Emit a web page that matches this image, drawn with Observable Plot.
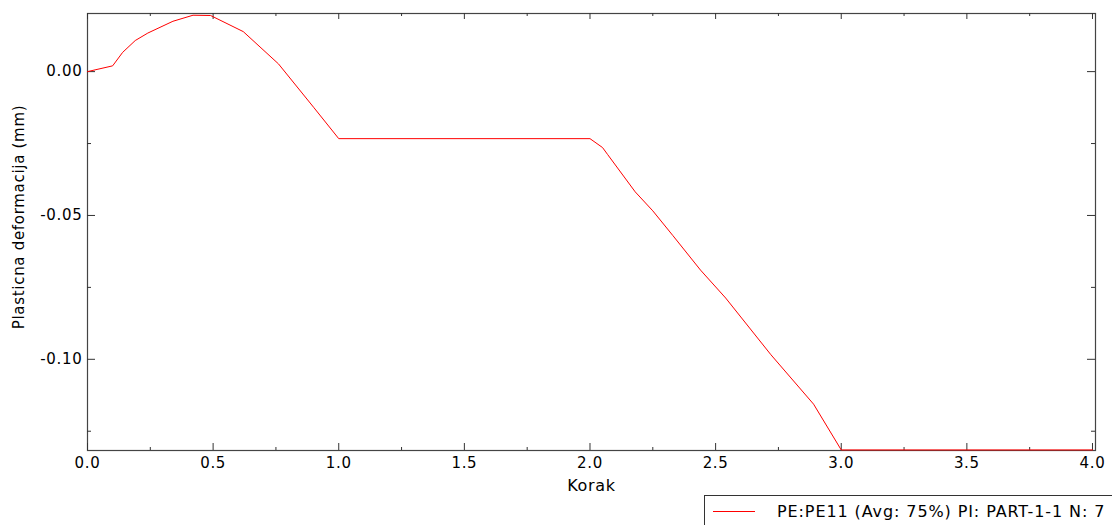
<!DOCTYPE html>
<html>
<head>
<meta charset="utf-8">
<script src="https://cdn.jsdelivr.net/npm/d3@7"></script>
<script src="https://cdn.jsdelivr.net/npm/@observablehq/plot@0.6"></script>
<style>
  html, body { margin: 0; padding: 0; background: white; }
  #wrap { position: relative; width: 1112px; height: 525px; overflow: hidden; background: white; }
  #legend { position: absolute; left: 704px; top: 495px; width: 430px; height: 40px;
            border: 1px solid #333; box-sizing: border-box; background: white;
            font-family: "DejaVu Sans", sans-serif; font-size: 16px; letter-spacing: 0.9px; color: #000; }
  #legend .swatch { position: absolute; left: 8px; top: 15px; width: 42px; height: 0; border-top: 1px solid #ff0000; }
  #legend .lbl { position: absolute; left: 72px; top: 6px; white-space: nowrap; }
</style>
</head>
<body>
<div id="wrap">
  <div id="chart"></div>
  <div id="legend"><div class="swatch"></div><div class="lbl" id="legendText"></div></div>
</div>
<script>
// Data
const korak = [0, 0.1, 0.14, 0.19, 0.24, 0.34, 0.42, 0.49, 0.62, 0.76, 0.9, 1.0, 2.0, 2.05, 2.07, 2.18, 2.25, 2.33, 2.44, 2.54, 2.72, 2.89, 3.0, 4.0];
const deformacija = [0, 0.002, 0.0067, 0.0108, 0.0134, 0.0175, 0.0196, 0.0195, 0.0139, 0.0027, -0.0124, -0.0233, -0.0233, -0.0264, -0.0288, -0.0418, -0.0484, -0.0570, -0.0690, -0.0787, -0.0984, -0.1156, -0.1315, -0.1315];
const xMajorTicks = [0, 0.5, 1.0, 1.5, 2.0, 2.5, 3.0, 3.5, 4.0];
const xMinorTicks = [0.25, 0.75, 1.25, 1.75, 2.25, 2.75, 3.25, 3.75];
const yMajorTicks = [0, -0.05, -0.10];
const yMinorTicks = [-0.025, -0.075, -0.125];
const xLabel = "Korak";
const yLabel = "Plasticna deformacija (mm)";
const seriesName = "PE:PE11 (Avg: 75%) PI: PART-1-1 N: 7";

const data = korak.map((k, i) => ({x: k, y: deformacija[i]}));

const W = 1112, H = 500, mT = 13, mB = 50, mL = 87, mR = 17;
const pw = W - mL - mR, ph = H - mT - mB;
const hy = s => s.replace("\u2212", "-");

const chart = Plot.plot({
  width: W, height: H,
  marginTop: mT, marginBottom: mB, marginLeft: mL, marginRight: mR,
  style: {fontFamily: "DejaVu Sans, sans-serif", fontSize: "15px", letterSpacing: "0.7px", color: "#000", background: "white"},
  x: {domain: [0, 4.012], label: null},
  y: {domain: [-0.1317, 0.0202], label: null},
  marks: [
    Plot.frame({stroke: "#444", strokeWidth: 1.2}),
    // inward ticks
    Plot.ruleX(xMajorTicks, {insetTop: ph - 7, stroke: "#333"}),
    Plot.ruleX(xMinorTicks, {insetTop: ph - 3, stroke: "#333"}),
    Plot.ruleX(xMajorTicks, {insetBottom: ph - 6, stroke: "#333"}),
    Plot.ruleX(xMinorTicks, {insetBottom: ph - 3, stroke: "#333"}),
    Plot.ruleY(yMajorTicks, {insetRight: pw - 8, stroke: "#333"}),
    Plot.ruleY(yMinorTicks, {insetRight: pw - 4, stroke: "#333"}),
    Plot.ruleY(yMajorTicks, {insetLeft: pw - 8, stroke: "#333"}),
    Plot.ruleY(yMinorTicks, {insetLeft: pw - 4, stroke: "#333"}),
    Plot.axisX({ticks: xMajorTicks, tickSize: 0, tickPadding: 7, tickFormat: d => hy(d3.format(".1f")(d)), label: null}),
    Plot.axisY({ticks: yMajorTicks, tickSize: 0, tickPadding: 5, tickFormat: d => hy(d3.format(".2f")(d)), label: null}),
    Plot.text([xLabel], {frameAnchor: "bottom", dy: 35, lineAnchor: "middle", textAnchor: "middle", fontSize: 16}),
    Plot.text([yLabel], {frameAnchor: "left", dx: -68, dy: -15, rotate: -90, lineAnchor: "middle", textAnchor: "middle", fontSize: 15}),
    Plot.line(data, {x: "x", y: "y", stroke: "#ff0000", strokeWidth: 1})
  ]
});
document.getElementById("chart").appendChild(chart);
document.getElementById("legendText").textContent = seriesName;
</script>
</body>
</html>
